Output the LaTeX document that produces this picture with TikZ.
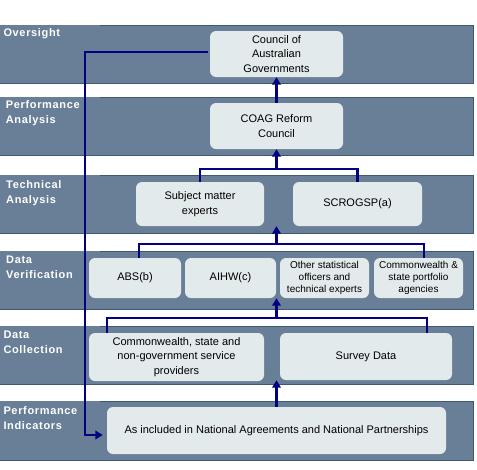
\documentclass[tikz,border=0pt]{standalone}
\usepackage{fontspec}
\setmainfont{Liberation Sans}
\newfontfamily\labelfont[LetterSpace=6]{Liberation Sans}
\usetikzlibrary{arrows.meta}
\definecolor{band}{HTML}{687F97}
\definecolor{bandedge}{HTML}{3E5872}
\definecolor{boxfill}{HTML}{E3EAEC}
\definecolor{navy}{HTML}{000080}
\begin{document}
\begin{tikzpicture}[x=1pt,y=-1pt,
  lbl/.style={anchor=north west, inner sep=0pt, align=left, text=white,
    font=\labelfont\bfseries\fontsize{11}{15}\selectfont},
  box/.style={fill=boxfill, rounded corners=6pt, inner sep=0pt, align=center,
    font=\fontsize{11}{14.6}\selectfont},
  smallbox/.style={box, font=\fontsize{10}{12}\selectfont},
  ln/.style={draw=navy, line width=2.2pt},
  arr/.style={ln, -{Triangle[width=8.5pt,length=7.5pt]}}]
\useasboundingbox (0,0) rectangle (477,469);
% bands
\foreach \t/\b in {25/83, 97/155, 175/233, 251/309, 326/384, 401/460}{
  \fill[band] (0,\t) rectangle (473,\b);
  \draw[bandedge, line width=0.8pt] (100,\t) -- (473,\t) -- (473,\b) -- (0,\b);
}
% band labels
\node[lbl] (l1) at (3.3,28) {Oversight};
\node[lbl] (l2) at (5.7,100) {Performance\\Analysis};
\node[lbl] (l3) at (6,180) {Technical\\Analysis};
\node[lbl] (l4) at (6,255.5) {Data\\Verification};
\node[lbl] (l5) at (3.3,330.5) {Data\\Collection};
\node[lbl] (l6) at (3.3,406.5) {Performance\\Indicators};
% boxes
\node[box, minimum width=133pt, minimum height=46pt] (coag) at (276.5,54) {Council of\\Australian\\Governments};
\node[box, minimum width=133pt, minimum height=46pt] (crc) at (276.5,126) {COAG Reform\\Council};
\node[box, minimum width=128pt, minimum height=44pt] (sme) at (200,204) {Subject matter\\experts};
\node[box, minimum width=129pt, minimum height=44pt] (scr) at (357.5,204) {SCROGSP(a)};
\node[box, minimum width=92pt, minimum height=40pt] (abs) at (135,278) {ABS(b)};
\node[box, minimum width=91pt, minimum height=40pt] (aihw) at (230.5,278) {AIHW(c)};
\node[smallbox, minimum width=89pt, minimum height=40pt] (oth) at (324.5,278) {Other statistical\\officers and\\technical experts};
\node[smallbox, minimum width=89pt, minimum height=40pt] (cw) at (418.5,278) {Commonwealth \&\\state portfolio\\agencies};
\node[box, minimum width=175pt, minimum height=48pt] (prov) at (176.5,357) {Commonwealth, state and\\non-government service\\providers};
\node[box, minimum width=172pt, minimum height=47pt] (surv) at (366,356.5) {Survey Data};
\node[box, minimum width=339pt, minimum height=47pt] (ind) at (276.5,430.5) {As included in National Agreements and National Partnerships};
% connectors
\draw[arr] (crc.north) -- (coag.south);
\coordinate (j1) at (276.5,169);
\draw[ln] (sme.north) |- (j1) -| (scr.north);
\draw[arr] (j1) -- (crc.south);
\coordinate (j2) at (276.5,244);
\draw[ln] ([xshift=4pt]abs.north) |- (j2) -| ([xshift=5.5pt]cw.north);
\draw[arr] (j2) -- (j2 |- sme.south);
\coordinate (j3) at (276.5,318);
\draw[ln] ([xshift=-69.5pt]prov.north) |- (j3) -| ([xshift=61pt]surv.north);
\draw[arr] (j3) -- (j3 |- aihw.south);
\draw[arr] (ind.north) -- (ind.north |- surv.south);
\coordinate (f1) at (85,52);
\draw[arr] ([xshift=-2pt,yshift=2pt]coag.west) -- (f1) |- ([xshift=-4pt,yshift=-4.5pt]ind.west);
\end{tikzpicture}
\end{document}
